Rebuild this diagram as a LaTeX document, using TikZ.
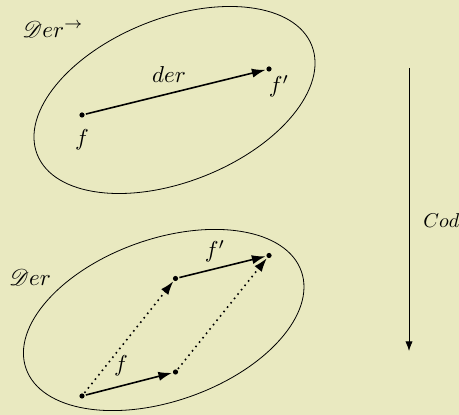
\documentclass[tikz,border=0pt]{standalone}
\usepackage{mathrsfs}
\usetikzlibrary{arrows.meta}
\definecolor{bgc}{RGB}{233,233,192}
\newcommand{\lab}[1]{\scalebox{1.15}{#1}}
\tikzset{
  pt/.style={circle,fill=black,inner sep=0pt,minimum size=2.6pt},
  lbl/.style={inner sep=0pt},
  arr/.style={thick,-{Latex[length=6.8pt,width=4.6pt]},shorten <=0.5pt,shorten >=0.3pt},
  darr/.style={thick,dotted,-{Latex[length=6.8pt,width=4.6pt]},shorten <=0.5pt,shorten >=0.3pt},
}
\begin{document}
\begin{tikzpicture}[x=0.5pt,y=-0.5pt]
\fill[bgc] (0,0) rectangle (459,415);
\useasboundingbox (0,0) rectangle (459,415);
% top ellipse
\draw[rotate around={21.7:(174.5,100)}] (174.5,100) ellipse [x radius=73.85pt, y radius=40.85pt];
% bottom ellipse
\draw[rotate around={19.5:(163.7,320)}] (163.7,320) ellipse [x radius=73pt, y radius=40.5pt];
% labels
\node[lbl] (lDerA) at (53,29) {\lab{$\mathscr{D}er^{\rightarrow}$}};
\node[lbl] (lDer) at (30,277) {\lab{$\mathscr{D}er$}};
% top
\node[pt] (f1) at (82,115) {};
\node[pt] (f1p) at (269,69) {};
\draw[arr] (f1) -- (f1p);
\node[lbl] (lder) at (169,75) {\lab{$der$}};
\node[lbl] (lf1) at (82,140) {\lab{$f$}};
\node[lbl] (lf1p) at (279,86) {\lab{$f'$}};
% bottom
\node[pt] (a) at (82,396) {};
\node[pt] (b) at (175.5,372) {};
\node[pt] (c) at (175.5,278.5) {};
\node[pt] (d) at (269,255.5) {};
\draw[arr] (a) -- (b);
\draw[arr] (c) -- (d);
\draw[darr] (a) -- (c);
\draw[darr] (b) -- (d);
\node[lbl] (lf) at (121,366) {\lab{$f$}};
\node[lbl] (lfp) at (215,251) {\lab{$f'$}};
% Cod
\coordinate (codtop) at (409,68);
\coordinate (codbot) at (409,351);
\draw[-{Latex}] (codtop) -- (codbot);
\node[lbl,anchor=west] (lcod) at (423,221) {$Cod$};
\end{tikzpicture}
\end{document}
